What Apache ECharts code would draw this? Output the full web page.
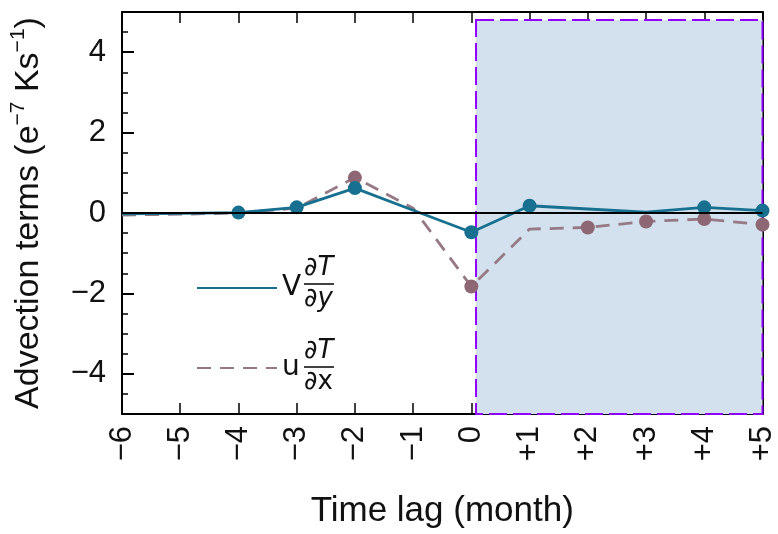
<!DOCTYPE html>
<html><head><meta charset="utf-8">
<script src="https://cdn.jsdelivr.net/npm/echarts@6/dist/echarts.min.js"></script>
<style>html,body{margin:0;padding:0;background:#fff}#c{width:778px;height:534px}</style>
</head><body><div id="c"></div>
<script>
// ---- data ----
const months = [-6, -5, -4, -3, -2, -1, 0, 1, 2, 3, 4, 5];
const tickLabels = ['−6', '−5', '−4', '−3', '−2', '−1', '0', '+1', '+2', '+3', '+4', '+5'];
const vAdv = [-0.02, -0.01, 0.01, 0.14, 0.62, 0.07, -0.48, 0.18, 0.10, 0.02, 0.14, 0.06];
const uAdv = [-0.05, -0.03, 0.00, 0.12, 0.88, 0.12, -1.83, -0.40, -0.36, -0.21, -0.15, -0.29];
const vMarked = [-4, -3, -2, 0, 1, 4, 5];
const uMarked = [-2, 0, 2, 3, 4, 5];
const yLabelValues = [-4, -2, 0, 2, 4];
const shadeFrom = [0.08, 4.8];
const shadeTo = [5, -5];
const vName = 'V∂T/∂y';
const uName = 'u∂T/∂x';

const FONT = "'Liberation Sans', Arial, Helvetica, sans-serif";
const LFONT = "'DejaVu Sans', sans-serif";
const TEAL = '#17708f';
const BROWN = '#8d6874';
const BROWN_LINE = '#967985';

const chart = echarts.init(document.getElementById('c'), null, {renderer: 'canvas'});
const fmtY = v => (v < 0 ? '−' + (-v) : String(v));

const tickMain = {show: true, inside: true, length: 12, lineStyle: {color: '#000', width: 2}, customValues: yLabelValues};
const tickMinor = {show: true, inside: true, length: 6, lineStyle: {color: '#000', width: 1.5}};
const fracRich = {
  d: {fontSize: 26, fontFamily: LFONT, fill: '#111'},
  i: {fontSize: 26, fontStyle: 'italic', fontFamily: LFONT, fill: '#111'}
};
const fracText = (txt, x, y, va) => ({
  type: 'text', x: x, y: y, z: 100,
  style: {text: txt, rich: fracRich, verticalAlign: va, align: 'left'}
});
const fracBar = (x1, x2, y) => ({type: 'line', z: 100, shape: {x1: x1, y1: y, x2: x2, y2: y}, style: {stroke: '#111', lineWidth: 1.6}});

const option = {
  animation: false,
  backgroundColor: '#fff',
  grid: {left: 121, right: 15, top: 12, bottom: 118, containLabel: false},
  xAxis: [
    {
      type: 'value', min: -6, max: 5, interval: 1, position: 'bottom',
      axisLine: {show: true, onZero: false, lineStyle: {color: '#000', width: 2}},
      axisTick: {show: true, inside: true, length: 11, lineStyle: {color: '#000', width: 1.5}},
      splitLine: {show: false},
      axisLabel: {
        rotate: 90, margin: 12, fontSize: 31, fontFamily: FONT, color: '#111',
        formatter: v => tickLabels[months.indexOf(v)] ?? ''
      },
      name: 'Time lag (month)', nameLocation: 'middle', nameGap: 80,
      nameTextStyle: {fontSize: 35, fontFamily: FONT, color: '#111'}
    },
    {
      type: 'value', min: -6, max: 5, interval: 1, position: 'top',
      axisLine: {show: true, onZero: false, lineStyle: {color: '#000', width: 2}},
      axisTick: {show: true, inside: true, length: 11, lineStyle: {color: '#000', width: 1.5}},
      axisLabel: {show: false}, splitLine: {show: false}
    }
  ],
  yAxis: [
    {
      type: 'value', min: -5, max: 5, interval: 1, position: 'left',
      axisLine: {show: true, onZero: false, lineStyle: {color: '#000', width: 2}},
      axisTick: tickMain,
      splitLine: {show: false},
      axisLabel: {
        customValues: yLabelValues, margin: 16, fontSize: 31, fontFamily: FONT, color: '#111',
        formatter: v => (yLabelValues.includes(v) ? fmtY(v) : '')
      },
      name: '{a|Advection terms (e}{s|−7}{a| Ks}{s|−1}{a|)}',
      nameLocation: 'middle', nameGap: 76,
      nameTextStyle: {
        rich: {
          a: {fontSize: 34, fontFamily: FONT, color: '#111', lineHeight: 38, verticalAlign: 'bottom'},
          s: {fontSize: 21, fontFamily: FONT, color: '#111', lineHeight: 38, verticalAlign: 'top'}
        }
      }
    },
    {
      type: 'value', min: -5, max: 5, interval: 1, position: 'right',
      axisLine: {show: true, onZero: false, lineStyle: {color: '#000', width: 2}},
      axisTick: tickMain, axisLabel: {show: false}, splitLine: {show: false}
    },
    {
      type: 'value', min: -5, max: 5, interval: 0.5, position: 'left',
      axisLine: {show: false, onZero: false}, axisTick: tickMinor, axisLabel: {show: false}, splitLine: {show: false}
    },
    {
      type: 'value', min: -5, max: 5, interval: 0.5, position: 'right',
      axisLine: {show: false, onZero: false}, axisTick: tickMinor, axisLabel: {show: false}, splitLine: {show: false}
    }
  ],
  legend: {
    orient: 'vertical', left: 196, top: 273, padding: 0, itemWidth: 80, itemHeight: 30, itemGap: 50,
    data: [{name: vName}, {name: uName}],
    formatter: n => n.charAt(0),
    itemStyle: {opacity: 0},
    textStyle: {fontSize: 28, fontFamily: LFONT, color: '#111', lineHeight: 30},
    selectedMode: false
  },
  graphic: [
    fracText('{d|∂}{i|T}', 304, 281, 'bottom'),
    fracBar(304, 334, 284),
    fracText('{d|∂}{i|y}', 304, 286, 'top'),
    fracText('{d|∂}{i|T}', 304, 364, 'bottom'),
    fracBar(304, 334, 367),
    fracText('{d|∂x}', 304, 369, 'top')
  ],
  series: [
    {
      name: uName, type: 'line', xAxisIndex: 0, yAxisIndex: 0, z: 3,
      data: months.map((m, i) => ({value: [m, uAdv[i]], symbol: uMarked.includes(m) ? 'circle' : 'none'})),
      symbolSize: 14, showAllSymbol: true,
      lineStyle: {color: BROWN_LINE, width: 2.8, type: [14, 9]},
      itemStyle: {color: BROWN},
      markArea: {
        silent: true,
        itemStyle: {color: '#d3e0ee', borderColor: '#8f00ff', borderWidth: 2, borderType: [18, 6]},
        data: [[{coord: shadeFrom}, {coord: shadeTo}]]
      }
    },
    {
      name: vName, type: 'line', xAxisIndex: 0, yAxisIndex: 0, z: 4,
      data: months.map((m, i) => ({value: [m, vAdv[i]], symbol: vMarked.includes(m) ? 'circle' : 'none'})),
      symbolSize: 14, showAllSymbol: true,
      lineStyle: {color: TEAL, width: 2.8},
      itemStyle: {color: TEAL},
      markLine: {
        silent: true, symbol: 'none', label: {show: false},
        lineStyle: {color: '#000', width: 2, type: 'solid'},
        data: [{yAxis: 0}]
      }
    }
  ]
};
chart.setOption(option);
</script>
</body></html>
